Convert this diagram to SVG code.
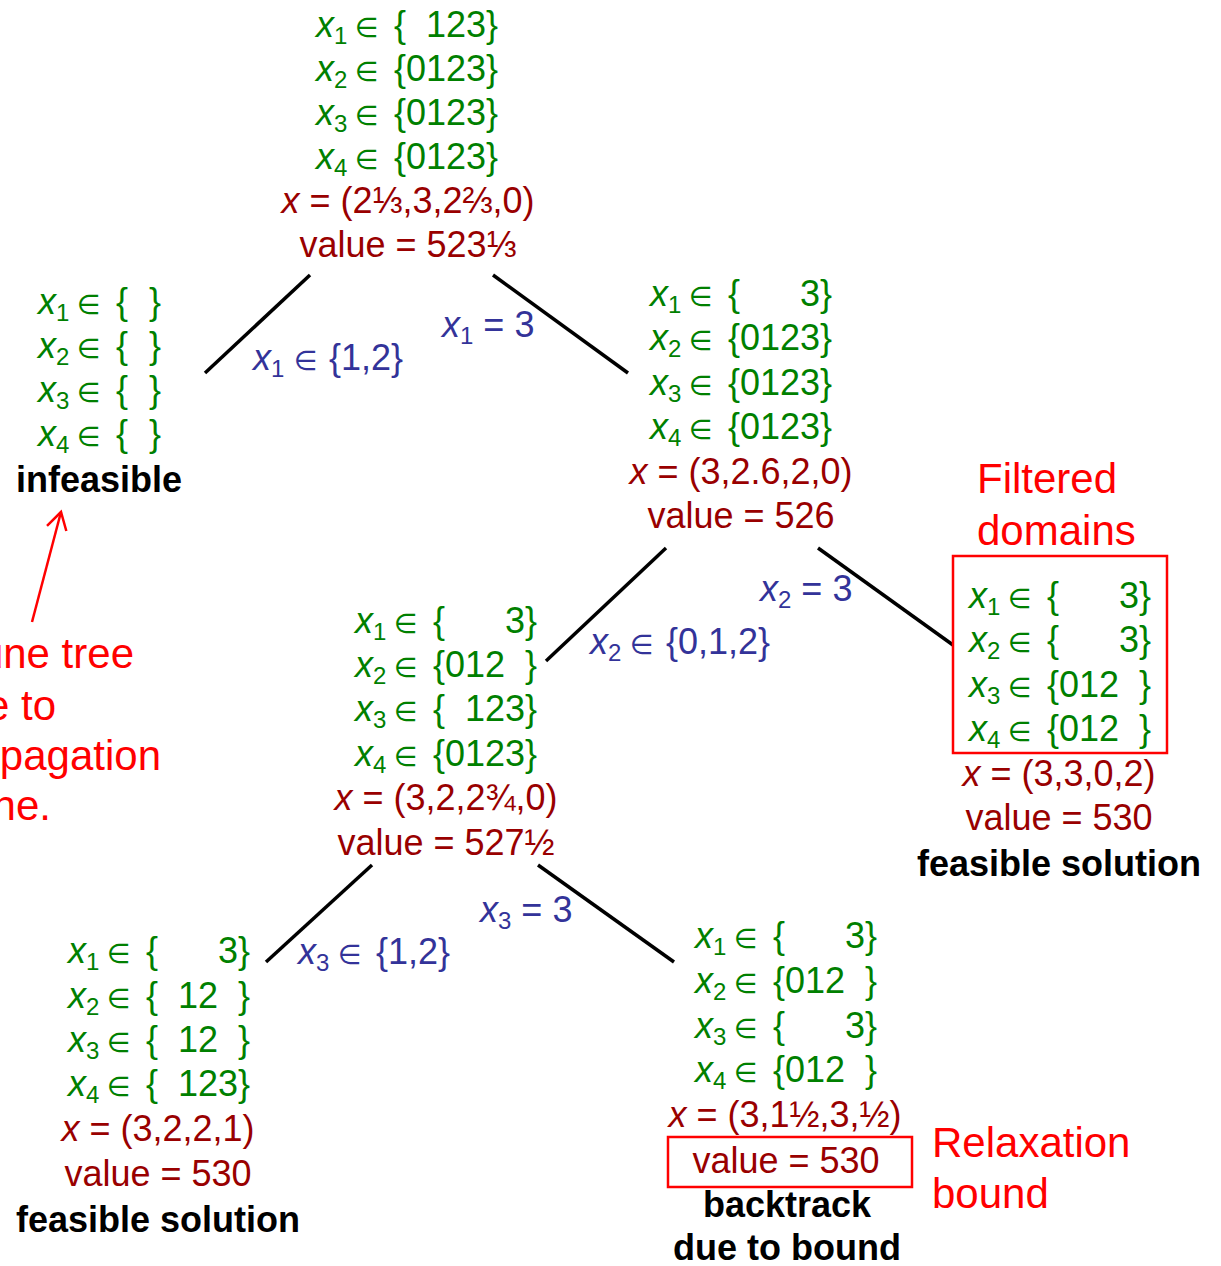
<svg xmlns="http://www.w3.org/2000/svg" width="1221" height="1266" viewBox="0 0 1221 1266">
<defs>
<style>
text { font-family: "Liberation Sans", Arial, sans-serif; font-size: 36px; }
.d { fill: #008000; }
.s { fill: #990000; }
.e { fill: #333399; }
.b { font-weight: bold; fill: #000000; }
.r { fill: #ff0000; font-size: 42px; }
.i { font-style: italic; }
.sub { font-size: 24px; }
.el { font-family: "DejaVu Sans", sans-serif; font-size: 27px; }
.m { text-anchor: middle; }
.conn { stroke: #000000; stroke-width: 3.5; fill: none; }
.box { stroke: #ff0000; stroke-width: 2.5; fill: none; }
.arrow { stroke: #ff0000; stroke-width: 2.5; fill: none; }
</style>
<marker id="openArrow" markerUnits="userSpaceOnUse" markerWidth="24" markerHeight="24" viewBox="0 0 24 24" refX="20" refY="12" orient="auto">
<path d="M3,2 L20,12 L3,22" fill="none" stroke="#ff0000" stroke-width="2.5"/>
</marker>
</defs>
<rect width="1221" height="1266" fill="#ffffff"/>

<g id="connectors">
<line class="conn" x1="310" y1="275" x2="205" y2="373"/>
<line class="conn" x1="493" y1="275" x2="628" y2="373"/>
<line class="conn" x1="666" y1="548" x2="546" y2="661"/>
<line class="conn" x1="818" y1="548" x2="953" y2="645"/>
<line class="conn" x1="372" y1="865" x2="266" y2="962"/>
<line class="conn" x1="538" y1="865" x2="674" y2="962"/>
<text class="e" x="253" y="370"><tspan class="i">x</tspan><tspan class="sub" dy="7">1</tspan><tspan class="el" x="294" dy="-7">∈</tspan><tspan x="329">{1,2}</tspan></text>
<text class="e" x="442" y="337"><tspan class="i">x</tspan><tspan class="sub" dy="7">1</tspan><tspan dy="-7"> = 3</tspan></text>
<text class="e" x="760" y="601"><tspan class="i">x</tspan><tspan class="sub" dy="7">2</tspan><tspan dy="-7"> = 3</tspan></text>
<text class="e" x="590" y="654"><tspan class="i">x</tspan><tspan class="sub" dy="7">2</tspan><tspan class="el" x="630" dy="-7">∈</tspan><tspan x="666">{0,1,2}</tspan></text>
<text class="e" x="480" y="922"><tspan class="i">x</tspan><tspan class="sub" dy="7">3</tspan><tspan dy="-7"> = 3</tspan></text>
<text class="e" x="298" y="964"><tspan class="i">x</tspan><tspan class="sub" dy="7">3</tspan><tspan class="el" x="338" dy="-7">∈</tspan><tspan x="376">{1,2}</tspan></text>
</g>

<g id="node-root">
<text class="d" y="37"><tspan class="i" x="316">x</tspan><tspan class="sub" dy="7">1</tspan><tspan class="el" x="355" dy="-7">∈</tspan><tspan x="394">{</tspan><tspan x="426">123</tspan><tspan x="486">}</tspan></text>
<text class="d" y="81"><tspan class="i" x="316">x</tspan><tspan class="sub" dy="7">2</tspan><tspan class="el" x="355" dy="-7">∈</tspan><tspan x="394">{</tspan><tspan x="406">0123</tspan><tspan x="486">}</tspan></text>
<text class="d" y="125"><tspan class="i" x="316">x</tspan><tspan class="sub" dy="7">3</tspan><tspan class="el" x="355" dy="-7">∈</tspan><tspan x="394">{</tspan><tspan x="406">0123</tspan><tspan x="486">}</tspan></text>
<text class="d" y="169"><tspan class="i" x="316">x</tspan><tspan class="sub" dy="7">4</tspan><tspan class="el" x="355" dy="-7">∈</tspan><tspan x="394">{</tspan><tspan x="406">0123</tspan><tspan x="486">}</tspan></text>
<text class="s m" x="408" y="213"><tspan class="i">x</tspan> = (2⅓,3,2⅔,0)</text>
<text class="s m" x="408" y="257">value = 523⅓</text>
</g>

<g id="node-infeasible">
<text class="d" y="314"><tspan class="i" x="38">x</tspan><tspan class="sub" dy="7">1</tspan><tspan class="el" x="77" dy="-7">∈</tspan><tspan x="116">{</tspan><tspan x="149">}</tspan></text>
<text class="d" y="358"><tspan class="i" x="38">x</tspan><tspan class="sub" dy="7">2</tspan><tspan class="el" x="77" dy="-7">∈</tspan><tspan x="116">{</tspan><tspan x="149">}</tspan></text>
<text class="d" y="402"><tspan class="i" x="38">x</tspan><tspan class="sub" dy="7">3</tspan><tspan class="el" x="77" dy="-7">∈</tspan><tspan x="116">{</tspan><tspan x="149">}</tspan></text>
<text class="d" y="446"><tspan class="i" x="38">x</tspan><tspan class="sub" dy="7">4</tspan><tspan class="el" x="77" dy="-7">∈</tspan><tspan x="116">{</tspan><tspan x="149">}</tspan></text>
<text class="b m" x="99" y="492">infeasible</text>
</g>

<g id="node-x1-3">
<text class="d" y="306"><tspan class="i" x="650">x</tspan><tspan class="sub" dy="7">1</tspan><tspan class="el" x="689" dy="-7">∈</tspan><tspan x="728">{</tspan><tspan x="800">3</tspan><tspan x="820">}</tspan></text>
<text class="d" y="350"><tspan class="i" x="650">x</tspan><tspan class="sub" dy="7">2</tspan><tspan class="el" x="689" dy="-7">∈</tspan><tspan x="728">{</tspan><tspan x="740">0123</tspan><tspan x="820">}</tspan></text>
<text class="d" y="395"><tspan class="i" x="650">x</tspan><tspan class="sub" dy="7">3</tspan><tspan class="el" x="689" dy="-7">∈</tspan><tspan x="728">{</tspan><tspan x="740">0123</tspan><tspan x="820">}</tspan></text>
<text class="d" y="439"><tspan class="i" x="650">x</tspan><tspan class="sub" dy="7">4</tspan><tspan class="el" x="689" dy="-7">∈</tspan><tspan x="728">{</tspan><tspan x="740">0123</tspan><tspan x="820">}</tspan></text>
<text class="s m" x="741" y="484"><tspan class="i">x</tspan> = (3,2.6,2,0)</text>
<text class="s m" x="741" y="528">value = 526</text>
</g>

<g id="node-x2-012">
<text class="d" y="633"><tspan class="i" x="355">x</tspan><tspan class="sub" dy="7">1</tspan><tspan class="el" x="394" dy="-7">∈</tspan><tspan x="433">{</tspan><tspan x="505">3</tspan><tspan x="525">}</tspan></text>
<text class="d" y="677"><tspan class="i" x="355">x</tspan><tspan class="sub" dy="7">2</tspan><tspan class="el" x="394" dy="-7">∈</tspan><tspan x="433">{</tspan><tspan x="445">012</tspan><tspan x="525">}</tspan></text>
<text class="d" y="721"><tspan class="i" x="355">x</tspan><tspan class="sub" dy="7">3</tspan><tspan class="el" x="394" dy="-7">∈</tspan><tspan x="433">{</tspan><tspan x="465">123</tspan><tspan x="525">}</tspan></text>
<text class="d" y="766"><tspan class="i" x="355">x</tspan><tspan class="sub" dy="7">4</tspan><tspan class="el" x="394" dy="-7">∈</tspan><tspan x="433">{</tspan><tspan x="445">0123</tspan><tspan x="525">}</tspan></text>
<text class="s m" x="446" y="810"><tspan class="i">x</tspan> = (3,2,2¾,0)</text>
<text class="s m" x="446" y="855">value = 527½</text>
</g>

<g id="node-x2-3">
<text class="r" x="977" y="493">Filtered</text>
<text class="r" x="977" y="545">domains</text>
<rect class="box" x="953" y="556" width="214" height="197"/>
<text class="d" y="608"><tspan class="i" x="969">x</tspan><tspan class="sub" dy="7">1</tspan><tspan class="el" x="1008" dy="-7">∈</tspan><tspan x="1047">{</tspan><tspan x="1119">3</tspan><tspan x="1139">}</tspan></text>
<text class="d" y="652"><tspan class="i" x="969">x</tspan><tspan class="sub" dy="7">2</tspan><tspan class="el" x="1008" dy="-7">∈</tspan><tspan x="1047">{</tspan><tspan x="1119">3</tspan><tspan x="1139">}</tspan></text>
<text class="d" y="697"><tspan class="i" x="969">x</tspan><tspan class="sub" dy="7">3</tspan><tspan class="el" x="1008" dy="-7">∈</tspan><tspan x="1047">{</tspan><tspan x="1059">012</tspan><tspan x="1139">}</tspan></text>
<text class="d" y="741"><tspan class="i" x="969">x</tspan><tspan class="sub" dy="7">4</tspan><tspan class="el" x="1008" dy="-7">∈</tspan><tspan x="1047">{</tspan><tspan x="1059">012</tspan><tspan x="1139">}</tspan></text>
<text class="s m" x="1059" y="786"><tspan class="i">x</tspan> = (3,3,0,2)</text>
<text class="s m" x="1059" y="830">value = 530</text>
<text class="b m" x="1059" y="876">feasible solution</text>
</g>

<g id="node-x3-12">
<text class="d" y="963"><tspan class="i" x="68">x</tspan><tspan class="sub" dy="7">1</tspan><tspan class="el" x="107" dy="-7">∈</tspan><tspan x="146">{</tspan><tspan x="218">3</tspan><tspan x="238">}</tspan></text>
<text class="d" y="1008"><tspan class="i" x="68">x</tspan><tspan class="sub" dy="7">2</tspan><tspan class="el" x="107" dy="-7">∈</tspan><tspan x="146">{</tspan><tspan x="178">12</tspan><tspan x="238">}</tspan></text>
<text class="d" y="1052"><tspan class="i" x="68">x</tspan><tspan class="sub" dy="7">3</tspan><tspan class="el" x="107" dy="-7">∈</tspan><tspan x="146">{</tspan><tspan x="178">12</tspan><tspan x="238">}</tspan></text>
<text class="d" y="1096"><tspan class="i" x="68">x</tspan><tspan class="sub" dy="7">4</tspan><tspan class="el" x="107" dy="-7">∈</tspan><tspan x="146">{</tspan><tspan x="178">123</tspan><tspan x="238">}</tspan></text>
<text class="s m" x="158" y="1141"><tspan class="i">x</tspan> = (3,2,2,1)</text>
<text class="s m" x="158" y="1186">value = 530</text>
<text class="b m" x="158" y="1232">feasible solution</text>
</g>

<g id="node-x3-3">
<text class="d" y="948"><tspan class="i" x="695">x</tspan><tspan class="sub" dy="7">1</tspan><tspan class="el" x="734" dy="-7">∈</tspan><tspan x="773">{</tspan><tspan x="845">3</tspan><tspan x="865">}</tspan></text>
<text class="d" y="993"><tspan class="i" x="695">x</tspan><tspan class="sub" dy="7">2</tspan><tspan class="el" x="734" dy="-7">∈</tspan><tspan x="773">{</tspan><tspan x="785">012</tspan><tspan x="865">}</tspan></text>
<text class="d" y="1038"><tspan class="i" x="695">x</tspan><tspan class="sub" dy="7">3</tspan><tspan class="el" x="734" dy="-7">∈</tspan><tspan x="773">{</tspan><tspan x="845">3</tspan><tspan x="865">}</tspan></text>
<text class="d" y="1082"><tspan class="i" x="695">x</tspan><tspan class="sub" dy="7">4</tspan><tspan class="el" x="734" dy="-7">∈</tspan><tspan x="773">{</tspan><tspan x="785">012</tspan><tspan x="865">}</tspan></text>
<text class="s m" x="785" y="1127"><tspan class="i">x</tspan> = (3,1½,3,½)</text>
<rect class="box" x="668" y="1137" width="244" height="50"/>
<text class="s m" x="786" y="1173">value = 530</text>
<text class="b m" x="787" y="1217">backtrack</text>
<text class="b m" x="787" y="1260">due to bound</text>
<text class="r" x="932" y="1157">Relaxation</text>
<text class="r" x="932" y="1208">bound</text>
</g>

<g id="note-prune">
<line class="arrow" x1="32" y1="622" x2="61" y2="512" marker-end="url(#openArrow)"/>
<text class="r" x="134" y="668" text-anchor="end">une tree</text>
<text class="r" x="56" y="720" text-anchor="end">e to</text>
<text class="r" x="161" y="770" text-anchor="end">pagation</text>
<text class="r" x="51" y="820" text-anchor="end">ne.</text>
</g>
</svg>
